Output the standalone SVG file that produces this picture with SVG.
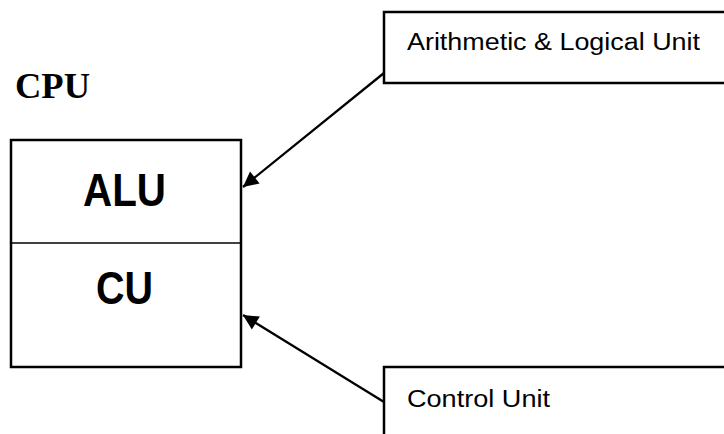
<svg xmlns="http://www.w3.org/2000/svg" width="724" height="434" viewBox="0 0 724 434">
<style>
.box{fill:#fff;stroke:#000;stroke-width:2.5}
.lbl{font-family:"Liberation Sans",Arial,sans-serif;font-size:23px;fill:#000}
.big{font-family:"Liberation Sans",Arial,sans-serif;font-weight:bold;font-size:47px;fill:#000;text-anchor:middle}
.conn{stroke:#000;stroke-width:2.3;fill:none}
</style>
<defs>
<marker id="ah" viewBox="0 0 10 10" refX="10" refY="5" markerWidth="8" markerHeight="8" markerUnits="userSpaceOnUse" orient="auto" style="overflow:visible">
<path d="M0,0 L10,5 L0,10 z" fill="#000" transform="scale(1.9)translate(-4.7,-2.4)"/>
</marker>
</defs>
<rect width="724" height="434" fill="#fff"/>
<text x="15" y="98" font-family="'Liberation Serif','Times New Roman',serif" font-weight="bold" font-size="36" textLength="75" lengthAdjust="spacingAndGlyphs">CPU</text>
<g id="cpu">
<rect class="box" x="11" y="140" width="230" height="227"/>
<line x1="11" y1="243" x2="241" y2="243" stroke="#000" stroke-width="1.5"/>
</g>
<g id="alu">
<text class="big" x="124.5" y="206" textLength="83" lengthAdjust="spacingAndGlyphs">ALU</text>
</g>
<g id="cu">
<text class="big" x="124.5" y="304" textLength="57" lengthAdjust="spacingAndGlyphs">CU</text>
</g>
<g id="alu-note">
<rect class="box" x="384" y="12" width="342" height="71"/>
<text class="lbl" x="407" y="50" textLength="293" lengthAdjust="spacingAndGlyphs">Arithmetic &amp; Logical Unit</text>
</g>
<g id="cu-note">
<rect class="box" x="384" y="367" width="342" height="80"/>
<text class="lbl" x="407" y="407" textLength="143" lengthAdjust="spacingAndGlyphs">Control Unit</text>
</g>
<g id="connectors">
<line class="conn" x1="384" y1="73" x2="243" y2="187" marker-end="url(#ah)"/>
<line class="conn" x1="384" y1="402" x2="243" y2="315" marker-end="url(#ah)"/>
</g>
</svg>
